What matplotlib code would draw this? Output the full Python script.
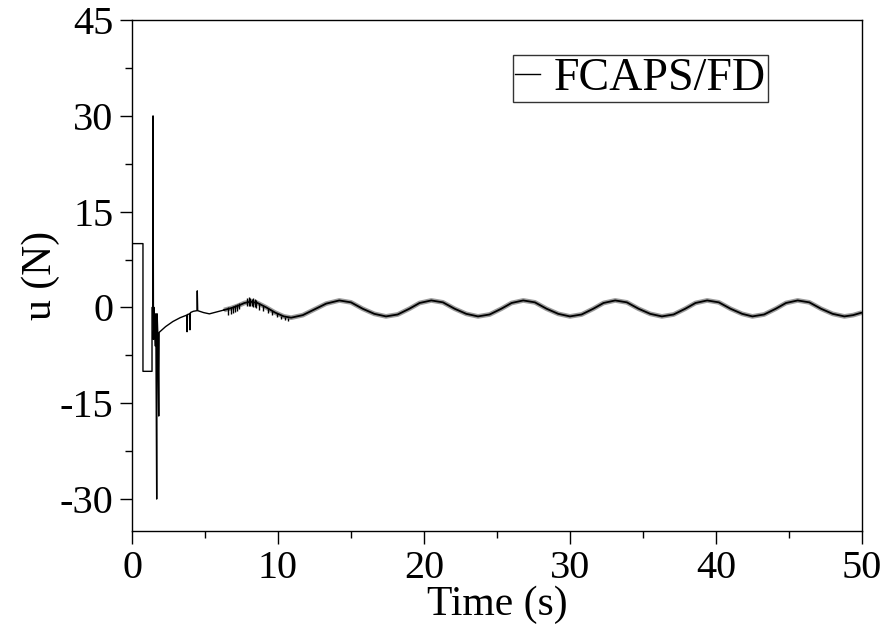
import matplotlib
matplotlib.use("Agg")
import matplotlib.pyplot as plt
from matplotlib.ticker import MultipleLocator

plt.rcParams['font.family'] = ['Liberation Serif', 'DejaVu Serif']
plt.rcParams['axes.unicode_minus'] = False

# start-up transient (time s, u N)
t_start = [0, 0.75, 0.75, 1.37, 1.37, 1.42, 1.44, 1.47, 1.52, 1.58, 1.63, 1.69, 1.72,
           1.78, 1.83, 1.86, 2.3, 2.8, 3.3, 3.75, 3.77, 3.8, 3.95, 3.97, 4.0,
           4.2, 4.45, 4.47, 4.5, 4.9, 5.3, 5.8, 6.3]
u_start = [10, 10, -10, -10, 0, 0, 30, -5, 0, -6, -1, -30, -1,
           -5, -17, -3.9, -3.0, -2.2, -1.6, -1.2, -3.8, -1.1, -1.0, -3.5, -0.8,
           -0.6, -0.5, 2.6, -0.5, -0.8, -1.0, -0.7, -0.4]

# slow oscillation after the transient
t_osc = [6.3, 6.8, 7.3, 7.7, 8.1, 8.6, 9.2, 9.8, 10.4, 10.9,
         11.7, 12.5, 13.3, 14.2, 15.0, 15.8, 16.6, 17.4,
         18.2, 19.0, 19.7, 20.5, 21.3, 22.1, 22.9, 23.7,
         24.5, 25.3, 26.0, 26.8, 27.6, 28.4, 29.2, 30.0,
         30.8, 31.6, 32.3, 33.1, 33.9, 34.7, 35.5, 36.3,
         37.1, 37.9, 38.6, 39.4, 40.2, 41.0, 41.8, 42.5,
         43.3, 44.1, 44.8, 45.6, 46.4, 47.2, 48.0, 48.8, 49.4, 50.0]
u_osc = [-0.4, -0.1, 0.3, 0.7, 0.9, 0.7, 0.0, -0.8, -1.4, -1.6,
         -1.2, -0.3, 0.6, 1.1, 0.8, -0.2, -1.0, -1.4,
         -1.1, -0.2, 0.7, 1.1, 0.8, -0.2, -1.0, -1.4,
         -1.1, -0.2, 0.7, 1.1, 0.8, -0.2, -1.0, -1.4,
         -1.1, -0.2, 0.7, 1.1, 0.8, -0.2, -1.0, -1.4,
         -1.1, -0.2, 0.7, 1.1, 0.8, -0.2, -1.0, -1.4,
         -1.1, -0.2, 0.7, 1.1, 0.8, -0.2, -1.0, -1.4, -1.2, -0.8]

# chattering spikes between 6.5 s and 11 s
spike_t = [6.6, 6.75, 6.9, 7.05, 7.2, 7.35, 7.9, 8.0, 8.1, 8.2, 8.3, 8.4, 8.5,
           8.7, 9.0, 9.3, 9.6, 9.9, 10.2, 10.5, 10.7]
spike_lo = [-1.2, -1.0, -0.9, -0.7, -0.5, -0.3, 0.2, 0.2, 0.3, 0.2, 0.0, 0.0, -0.1,
            -0.4, -0.6, -0.9, -1.2, -1.5, -1.8, -2.0, -2.1]
spike_hi = [0.0, 0.1, 0.3, 0.4, 0.6, 0.7, 1.5, 1.6, 1.5, 1.4, 1.5, 1.3, 1.1,
            0.7, 0.3, -0.1, -0.5, -0.9, -1.3, -1.5, -1.6]

fig = plt.figure(figsize=(8.89, 6.28), dpi=100)
ax = fig.add_axes([0.1485, 0.1545, 0.821, 0.8135])

ax.plot(t_osc, u_osc, color='0.45', lw=3.4, alpha=0.7, solid_capstyle='butt')
ax.plot(t_osc, u_osc, color='black', lw=1.3)
ax.plot(t_start, u_start, color='black', lw=1.0, label='FCAPS/FD')
ax.vlines(spike_t, spike_lo, spike_hi, color='black', lw=1.0)

ax.set_xlim(0, 50)
ax.set_ylim(-35, 45)
ax.xaxis.set_major_locator(MultipleLocator(10))
ax.xaxis.set_minor_locator(MultipleLocator(5))
ax.yaxis.set_major_locator(MultipleLocator(15))
ax.yaxis.set_minor_locator(MultipleLocator(7.5))
ax.tick_params(which='both', direction='out', top=False, right=False, width=1, labelsize=29)
ax.tick_params(which='major', length=9, pad=4.5)
ax.tick_params(which='minor', length=5)
for s in ax.spines.values():
    s.set_linewidth(1.0)

ax.set_xlabel('Time (s)', fontsize=30, va='baseline')
ax.xaxis.set_label_coords(0.5, -0.164)
ax.set_ylabel('u (N)', fontsize=30, labelpad=0)

leg = ax.legend(loc='upper right', bbox_to_anchor=(0.872, 0.932), borderaxespad=0,
                fontsize=33, frameon=True, fancybox=False, handlelength=0.55,
                handletextpad=0.3, borderpad=0.05)
leg.get_frame().set_edgecolor('black')
leg.get_frame().set_linewidth(1.0)

fig.savefig('out.png', dpi=100)
